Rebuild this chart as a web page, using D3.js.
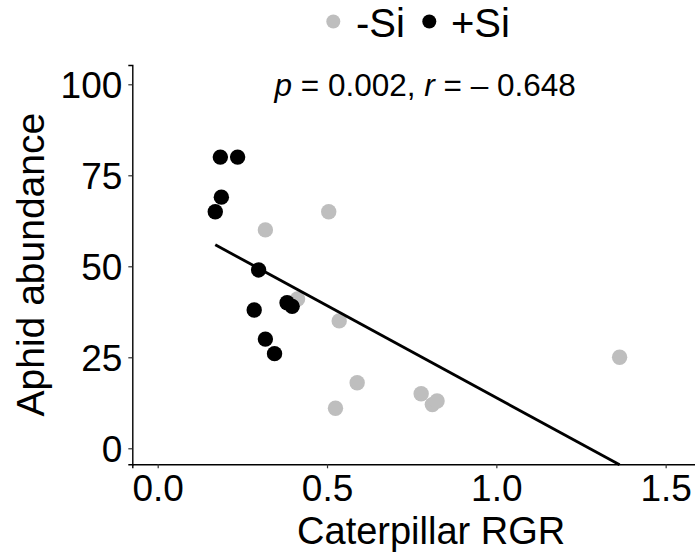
<!DOCTYPE html>
<html>
<head>
<meta charset="utf-8">
<script src="https://cdn.jsdelivr.net/npm/d3@7"></script>
<style>
  html, body { margin: 0; padding: 0; background: #fff; }
  svg { display: block; }
  text { font-family: "Liberation Sans", Arial, sans-serif; }
</style>
</head>
<body>
<svg id="chart" width="695" height="555"></svg>
<script>
// ---- data ----
const groups = ["-Si", "+Si"];
const groupColors = ["#bebebe", "#000000"];
const minusSiRGR = [0.318, 0.505, 0.413, 0.536, 0.589, 0.525, 0.778, 0.811, 0.825, 1.364];
const minusSiAphid = [60, 65, 41, 35, 18, 11, 15, 12, 13, 25];
const plusSiRGR = [0.185, 0.236, 0.188, 0.170, 0.298, 0.285, 0.382, 0.397, 0.318, 0.345];
const plusSiAphid = [80, 80, 69, 65, 49, 38, 40, 39, 30, 26];
const xTicks = [0.0, 0.5, 1.0, 1.5];
const yTicks = [0, 25, 50, 75, 100];
const xTitle = "Caterpillar RGR";
const yTitle = "Aphid abundance";
const statP = "0.002";
const statR = "\u2013 0.648";

(function () {
// ---- layout ----
const mLeft = 132.3, mRight = 730, mTop = 65, mBottom = 464.3;

const svg = d3.select("#chart");

const x = d3.scaleLinear().domain([-0.075, 1.69]).range([mLeft, mRight]);
const y = d3.scaleLinear().domain([-4.4, 105.3]).range([mBottom, mTop]);

const points = [];
minusSiRGR.forEach((v, i) => points.push({g: 0, x: v, y: minusSiAphid[i]}));
plusSiRGR.forEach((v, i) => points.push({g: 1, x: v, y: plusSiAphid[i]}));

// axes
const xAxis = svg.append("g")
  .attr("transform", `translate(0,${mBottom})`)
  .call(d3.axisBottom(x).tickValues(xTicks).tickFormat(d3.format(".1f")).tickSizeOuter(0).tickSize(4).tickPadding(6));
const yAxis = svg.append("g")
  .attr("transform", `translate(${mLeft},0)`)
  .call(d3.axisLeft(y).tickValues(yTicks).tickFormat(d3.format("d")).tickSizeOuter(0).tickSize(4).tickPadding(6));

[xAxis, yAxis].forEach(a => {
  a.select(".domain").attr("stroke", "#000").attr("stroke-width", 1.4);
  a.selectAll(".tick line").attr("stroke", "#333").attr("stroke-width", 1.2);
  a.selectAll(".tick text").attr("fill", "#000").style("font-size", "37px")
    .style("font-family", "'Liberation Sans', Arial, sans-serif");
});
xAxis.selectAll(".tick text").attr("dy", "0.71em");
yAxis.selectAll(".tick text").attr("dy", "0.36em");

// points
svg.append("g").selectAll("circle")
  .data(points.filter(d => d.g === 0).concat(points.filter(d => d.g === 1)))
  .join("circle")
  .attr("cx", d => x(d.x))
  .attr("cy", d => y(d.y))
  .attr("r", 7.7)
  .attr("fill", d => groupColors[d.g]);

// linear regression over all points
const mx = d3.mean(points, d => d.x), my = d3.mean(points, d => d.y);
const sxy = d3.sum(points, d => (d.x - mx) * (d.y - my));
const sxx = d3.sum(points, d => (d.x - mx) ** 2);
const slope = sxy / sxx, intercept = my - slope * mx;
const [xmin, xmax] = d3.extent(points, d => d.x);
const fit = [xmin, xmax].map(v => ({x: v, y: intercept + slope * v}));
svg.append("path")
  .datum(fit)
  .attr("d", d3.line().x(d => x(d.x)).y(d => y(d.y)))
  .attr("fill", "none")
  .attr("stroke", "#000")
  .attr("stroke-width", 2.8);

// annotation
const ann = svg.append("text")
  .attr("x", x(0.79))
  .attr("y", y(96.8))
  .attr("text-anchor", "middle")
  .style("font-size", "31.5px")
  .attr("fill", "#000");
ann.append("tspan").style("font-style", "italic").text("p");
ann.append("tspan").text(" = " + statP + ", ");
ann.append("tspan").style("font-style", "italic").text("r");
ann.append("tspan").text(" = " + statR);

// axis titles
svg.append("text")
  .attr("x", (mLeft + mRight) / 2)
  .attr("y", 544)
  .attr("text-anchor", "middle")
  .style("font-size", "38px")
  .attr("fill", "#000")
  .text(xTitle);
svg.append("text")
  .attr("transform", `translate(44,${(mTop + mBottom) / 2}) rotate(-90)`)
  .attr("text-anchor", "middle")
  .style("font-size", "39px")
  .attr("fill", "#000")
  .text(yTitle);

// legend
const legend = svg.append("g");
const legendPos = [{cx: 333.3, tx: 356}, {cx: 429.3, tx: 451}];
groups.forEach((g, i) => {
  legend.append("circle")
    .attr("cx", legendPos[i].cx).attr("cy", 21.5).attr("r", 7)
    .attr("fill", groupColors[i]);
  legend.append("text")
    .attr("x", legendPos[i].tx).attr("y", 37)
    .style("font-size", "40px")
    .attr("fill", "#000")
    .text(g);
});
})();
</script>
</body>
</html>
